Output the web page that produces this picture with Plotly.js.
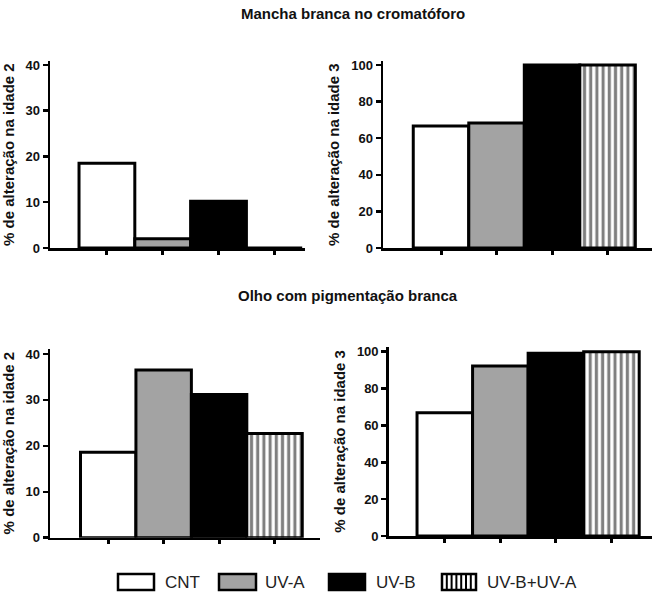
<!DOCTYPE html>
<html>
<head>
<meta charset="utf-8">
<script src="https://cdn.plot.ly/plotly-3.0.1.min.js"></script>
<style>html,body{margin:0;padding:0;background:#fff;}#chart{width:652px;height:595px;}</style>
</head>
<body>
<div id="chart"></div>
<script>
// ---- data ----
const groups = ['CNT', 'UV-A', 'UV-B', 'UV-B+UV-A'];
const manchaIdade2 = [18.5, 2, 10.2, 0];
const manchaIdade3 = [66.7, 68.3, 100, 100];
const olhoIdade2 = [18.6, 36.5, 31.2, 22.7];
const olhoIdade3 = [66.9, 92.2, 99.1, 100];
const panelTitles = ['Mancha branca no cromatóforo', 'Olho com pigmentação branca'];
const yTitles = ['% de alteração na idade 2', '% de alteração na idade 3'];

// ---- styles ----
const fills = ['#ffffff', '#a3a3a3', '#000000', '#ffffff'];
const patterns = ['', '', '', '|'];
const W = 652, H = 595;
const FONT = 'Liberation Sans, Arial, sans-serif';
const px = x => x / W;
const py = y => 1 - y / H;

const data = [];
function addPanel(vals, xa, ya) {
  groups.forEach((g, i) => {
    const marker = {color: fills[i], line: {color: '#000', width: 3}};
    if (patterns[i]) {
      marker.pattern = {shape: patterns[i], fgcolor: '#000', bgcolor: '#fff', fillmode: 'overlay', size: 6.2, solidity: 0.5};
    }
    data.push({
      type: 'bar', x: [g], y: [vals[i]], xaxis: xa, yaxis: ya, name: g,
      showlegend: false, width: 1, marker: marker
    });
  });
}
addPanel(manchaIdade2, 'x', 'y');
addPanel(manchaIdade3, 'x2', 'y2');
addPanel(olhoIdade2, 'x3', 'y3');
addPanel(olhoIdade3, 'x4', 'y4');

function xAx(domain, range, anchor) {
  return {
    domain: domain, range: range, anchor: anchor, type: 'category',
    categoryorder: 'array', categoryarray: groups,
    showticklabels: false, showgrid: false, zeroline: false,
    showline: true, linecolor: '#000', linewidth: 2.5,
    ticks: 'outside', ticklen: 4, tickwidth: 3, tickcolor: '#000',
    fixedrange: true
  };
}
function yAx(domain, range, anchor, dtick, title) {
  return {
    domain: domain, range: range, anchor: anchor,
    showgrid: false, zeroline: false,
    showline: true, linecolor: '#000', linewidth: 2.5,
    ticks: 'outside', ticklen: 5, tickwidth: 2.5, tickcolor: '#000',
    tick0: 0, dtick: dtick,
    tickfont: {family: FONT, size: 13, color: '#111', weight: 'bold'},
    title: {text: title, font: {family: FONT, size: 15, color: '#111', weight: 'bold'}, standoff: 8},
    fixedrange: true
  };
}

const shapes = [];
const annotations = [];

// panel titles
annotations.push({xref: 'paper', yref: 'paper', x: px(353), y: py(13), text: '<b>' + panelTitles[0] + '</b>',
  showarrow: false, xanchor: 'center', yanchor: 'middle', font: {family: FONT, size: 15, color: '#111'}});
annotations.push({xref: 'paper', yref: 'paper', x: px(348), y: py(295), text: '<b>' + panelTitles[1] + '</b>',
  showarrow: false, xanchor: 'center', yanchor: 'middle', font: {family: FONT, size: 15, color: '#111'}});

// legend (drawn with shapes + text)
const legBox = [[118, 154], [219, 256], [329, 365], [442, 476]];
const legText = [163, 263, 374, 485];
groups.forEach((g, i) => {
  const [x0, x1] = legBox[i];
  shapes.push({type: 'rect', xref: 'paper', yref: 'paper', x0: px(x0), x1: px(x1), y0: py(590), y1: py(574),
    fillcolor: fills[i], line: {color: '#000', width: 2.5}});
  if (patterns[i] === '|') {
    for (let xx = x0 + 4.8; xx < x1 - 2; xx += 4.8) {
      shapes.push({type: 'line', xref: 'paper', yref: 'paper', x0: px(xx), x1: px(xx), y0: py(590), y1: py(574),
        line: {color: '#000', width: 2}});
    }
  }
  annotations.push({xref: 'paper', yref: 'paper', x: px(legText[i]), y: py(582), text: g, showarrow: false,
    xanchor: 'left', yanchor: 'middle', font: {family: FONT, size: 17, color: '#222'}});
});

const layout = {
  width: W, height: H,
  margin: {l: 0, r: 0, t: 0, b: 0},
  paper_bgcolor: '#fff', plot_bgcolor: 'rgba(0,0,0,0)',
  barmode: 'overlay', bargap: 0, showlegend: false,
  xaxis: xAx([px(50), px(305)], [-1.02, 3.55], 'y'),
  yaxis: yAx([py(248), py(61.3)], [0, 40.8], 'x', 10, yTitles[0]),
  xaxis2: xAx([px(383), 1], [-1.045, 3.8], 'y2'),
  yaxis2: yAx([py(248), py(61.3)], [0, 102], 'x2', 20, yTitles[1]),
  xaxis3: xAx([px(50), px(320)], [-1.05, 3.82], 'y3'),
  yaxis3: yAx([py(537.7), py(348.5)], [0, 41.2], 'x3', 10, yTitles[0]),
  xaxis4: xAx([px(388.7), 1], [-1.01, 3.73], 'y4'),
  yaxis4: yAx([py(536), py(346.7)], [0, 102.7], 'x4', 20, yTitles[1]),
  shapes: shapes,
  annotations: annotations
};

Plotly.newPlot('chart', data, layout, {displayModeBar: false, staticPlot: true});
</script>
</body>
</html>
